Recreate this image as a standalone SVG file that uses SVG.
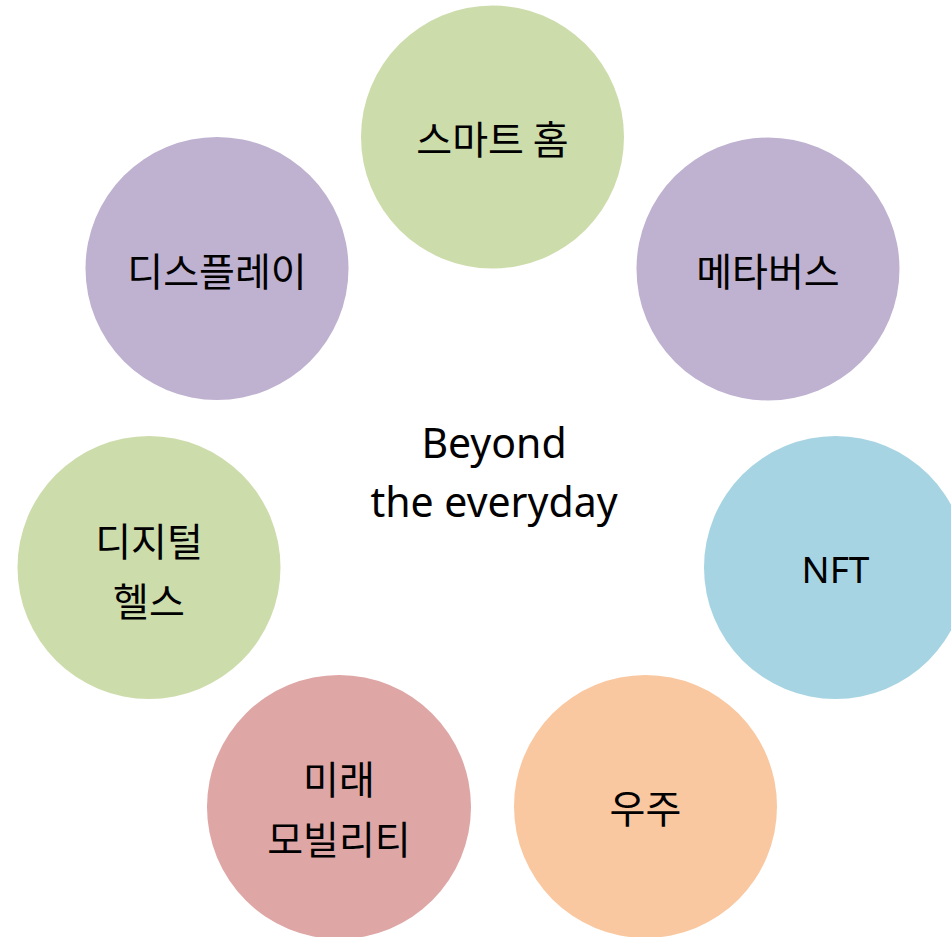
<svg xmlns="http://www.w3.org/2000/svg" width="951" height="937" viewBox="0 0 951 937">
<style>
.lbl{font-family:"Noto Sans CJK KR","Noto Sans",sans-serif;font-size:39px;fill:#000;text-anchor:middle;dominant-baseline:central}
.nft{font-family:"Noto Sans","Open Sans",sans-serif;font-size:37px;fill:#000;text-anchor:middle;dominant-baseline:central}
.en{font-family:"Noto Sans","Open Sans",sans-serif;font-size:41px;fill:#000;text-anchor:middle}
.g{fill:#CDDCAB}.p{fill:#BFB1D0}.b{fill:#A6D4E2}.o{fill:#F9C8A0}.r{fill:#DEA6A5}
</style>
<rect width="951" height="937" fill="#fff"/>
<g id="connectors"/>
<g id="smart-home"><circle class="g" cx="492.5" cy="137" r="131.5"/><text class="lbl" x="492.5" y="137">스마트 홈</text></g>
<g id="metaverse"><circle class="p" cx="768" cy="269" r="131.5"/><text class="lbl" x="768" y="269">메타버스</text></g>
<g id="nft"><circle class="b" cx="835.5" cy="567.5" r="131.5"/><text class="nft" x="835.5" y="568">NFT</text></g>
<g id="space"><circle class="o" cx="645.5" cy="806.5" r="131.5"/><text class="lbl" x="645.5" y="806">우주</text></g>
<g id="mobility"><circle class="r" cx="339" cy="807" r="132"/><text class="lbl" x="339" y="777">미래</text><text class="lbl" x="339" y="837">모빌리티</text></g>
<g id="digital-health"><circle class="g" cx="149" cy="567.5" r="131.5"/><text class="lbl" x="149" y="539">디지털</text><text class="lbl" x="149" y="599">헬스</text></g>
<g id="display"><circle class="p" cx="217" cy="268.5" r="131.5"/><text class="lbl" x="217" y="269">디스플레이</text></g>
<g id="center"><text class="en" x="494" y="458">Beyond</text><text class="en" x="494" y="517">the everyday</text></g>
</svg>
